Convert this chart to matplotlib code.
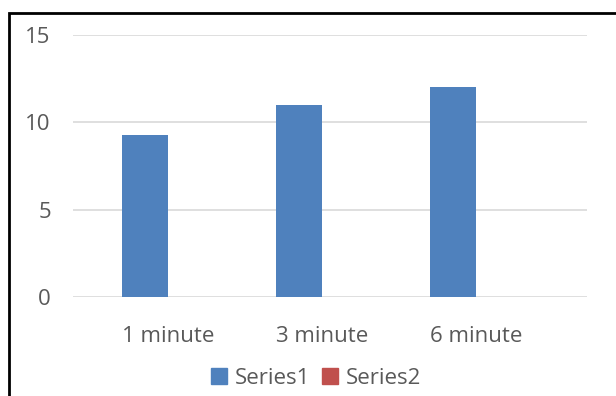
import numpy as np
import matplotlib
matplotlib.use("Agg")
import matplotlib.pyplot as plt
from matplotlib.patches import Rectangle, Patch

categories = ["1 minute", "3 minute", "6 minute"]
series1 = [9.25, 11.0, 12.0]
series2 = [np.nan, np.nan, np.nan]
series_names = ["Series1", "Series2"]
yticks = [0, 5, 10, 15]

plt.rcParams['font.family'] = ['Open Sans', 'DejaVu Sans']

fig = plt.figure(figsize=(6.16, 3.96), dpi=100)
ax = fig.add_axes([0.1185, 0.25, 0.835, 0.6616])

x = np.arange(len(categories))
w = 0.30
ax.bar(x - w / 2, series1, width=w, color='#4F81BD', zorder=3)
ax.bar(x + w / 2, series2, width=w, color='#C0504D', zorder=3)

ax.set_xlim(-0.62, len(categories) - 1 + 0.726)
ax.set_ylim(0, 15)
ax.set_yticks(yticks)
ax.set_xticks(x)
ax.set_xticklabels(categories)
ax.tick_params(axis='both', length=0, labelsize=16, labelcolor='#595959')
ax.tick_params(axis='y', pad=16)
ax.tick_params(axis='x', pad=21)
ax.grid(axis='y', color='#D9D9D9', linewidth=1.2, zorder=0)
for s in ax.spines.values():
    s.set_visible(False)

handles = [Patch(color='#4F81BD'), Patch(color='#C0504D')]
fig.legend(handles, series_names, loc='center', bbox_to_anchor=(0.513, 0.045),
           ncol=2, frameon=False, fontsize=16, labelcolor='#595959',
           handlelength=0.75, handleheight=0.75, handletextpad=0.35, columnspacing=0.5)

# outer frame of the screenshot (cut off at right and bottom)
fig.patches.append(Rectangle((0.014, -0.05), 1.2, 1.017, transform=fig.transFigure,
                             fill=False, edgecolor='black', linewidth=2))

fig.savefig("out.png", dpi=100)
